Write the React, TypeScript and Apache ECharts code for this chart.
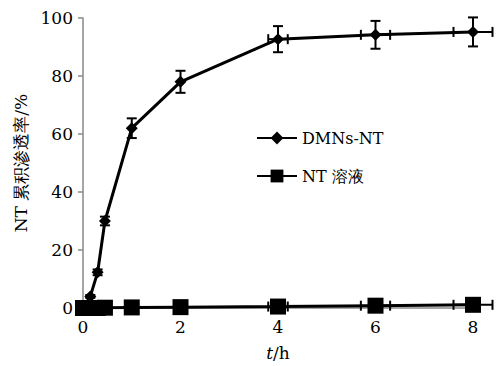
import React, { useEffect, useRef } from "react";
import * as echarts from "echarts";

const xTimes = [0, 0.15, 0.3, 0.45, 1, 2, 4, 6, 8];
const dmnsValues = [0, 4, 12.3, 30, 62, 78, 92.7, 94.2, 95.2];
const dmnsYErr = [0, 0.5, 1, 1.5, 3.4, 3.8, 4.5, 4.8, 5];
const dmnsXErr = [0, 0, 0, 0, 0, 0, 0.2, 0.3, 0.4];
const ntValues = [0, 0, 0, 0.1, 0.2, 0.3, 0.5, 0.8, 1.1];
const ntYErr = [0, 0, 0, 0, 0, 0, 0, 0, 0];
const ntXErr = [0, 0, 0, 0, 0, 0, 0.2, 0.3, 0.4];
const yTicks = [0, 20, 40, 60, 80, 100];
const xTicks = [0, 2, 4, 6, 8];
const seriesNames = ["DMNs-NT", "NT 溶液"];

const FONT = "DejaVu Serif";

function errorSeries(values: number[], yErr: number[], xErr: number[]) {
  const data = xTimes.map((x, i) => [x, values[i], yErr[i], xErr[i]]);
  return {
    type: "custom",
    silent: true,
    z: 3,
    clip: false,
    data,
    renderItem: (params: any, api: any) => {
      const x = api.value(0);
      const y = api.value(1);
      const ye = api.value(2);
      const xe = api.value(3);
      const children: any[] = [];
      const style = { stroke: "#000", lineWidth: 2 };
      const cap = 5;
      if (ye > 0) {
        const top = api.coord([x, y + ye]);
        const bot = api.coord([x, y - ye]);
        children.push({ type: "line", shape: { x1: top[0], y1: top[1], x2: bot[0], y2: bot[1] }, style });
        children.push({ type: "line", shape: { x1: top[0] - cap, y1: top[1], x2: top[0] + cap, y2: top[1] }, style });
        children.push({ type: "line", shape: { x1: bot[0] - cap, y1: bot[1], x2: bot[0] + cap, y2: bot[1] }, style });
      }
      if (xe > 0) {
        const l = api.coord([x - xe, y]);
        const r = api.coord([x + xe, y]);
        children.push({ type: "line", shape: { x1: l[0], y1: l[1], x2: r[0], y2: r[1] }, style });
        children.push({ type: "line", shape: { x1: l[0], y1: l[1] - cap, x2: l[0], y2: l[1] + cap }, style });
        children.push({ type: "line", shape: { x1: r[0], y1: r[1] - cap, x2: r[0], y2: r[1] + cap }, style });
      }
      return { type: "group", children };
    },
  };
}

export default function App() {
  const ref = useRef<HTMLDivElement>(null);
  useEffect(() => {
    if (!ref.current) return;
    const chart = echarts.init(ref.current, null, { renderer: "svg" });
    chart.setOption({
      animation: false,
      backgroundColor: "#fff",
      textStyle: { fontFamily: FONT, color: "#000" },
      grid: { left: 83, right: 23, top: 18, bottom: 56 },
      legend: {
        orient: "vertical",
        left: 251,
        top: 125,
        itemWidth: 40,
        itemHeight: 16,
        itemGap: 22,
        data: seriesNames,
        textStyle: { fontFamily: FONT, fontSize: 16, color: "#000" },
      },
      xAxis: {
        type: "value",
        min: 0,
        max: 8,
        interval: 2,
        name: "{i|t}/h",
        nameLocation: "middle",
        nameGap: 36,
        nameTextStyle: {
          fontFamily: FONT,
          fontSize: 17,
          color: "#000",
          rich: { i: { fontStyle: "italic", fontFamily: FONT, fontSize: 17, color: "#000" } },
        },
        axisLine: { show: true, lineStyle: { color: "#888", width: 1.5 } },
        axisTick: { show: true, length: 4, lineStyle: { color: "#888" } },
        splitLine: { show: false },
        axisLabel: {
          fontFamily: FONT,
          fontSize: 17,
          color: "#000",
          margin: 10,
          formatter: (v: number) => (xTicks.includes(v) ? String(v) : ""),
        },
      },
      yAxis: {
        type: "value",
        min: 0,
        max: 100,
        interval: 20,
        name: "NT 累积渗透率/%",
        nameLocation: "middle",
        nameGap: 38,
        nameTextStyle: { fontFamily: FONT, fontSize: 17, color: "#000" },
        axisLine: { show: true, lineStyle: { color: "#888", width: 1.5 } },
        axisTick: { show: true, length: 5, lineStyle: { color: "#888", width: 1.5 } },
        splitLine: { show: false },
        axisLabel: {
          fontFamily: FONT,
          fontSize: 17,
          color: "#000",
          margin: 10,
          formatter: (v: number) => (yTicks.includes(v) ? String(v) : ""),
        },
      },
      series: [
        {
          name: seriesNames[0],
          type: "line",
          z: 4,
          data: xTimes.map((x, i) => [x, dmnsValues[i]]),
          symbol: "diamond",
          symbolSize: 12,
          showAllSymbol: true,
          lineStyle: { color: "#000", width: 3 },
          itemStyle: { color: "#000" },
        },
        {
          name: seriesNames[1],
          type: "line",
          z: 4,
          data: xTimes.map((x, i) => [x, ntValues[i]]),
          symbol: "rect",
          symbolSize: 16,
          showAllSymbol: true,
          lineStyle: { color: "#000", width: 3 },
          itemStyle: { color: "#000" },
        },
        errorSeries(dmnsValues, dmnsYErr, dmnsXErr),
        errorSeries(ntValues, ntYErr, ntXErr),
      ],
    });
    return () => chart.dispose();
  }, []);
  return (
    <div
      ref={ref}
      style={{ position: "fixed", left: 0, top: 0, width: 496, height: 366 }}
    />
  );
}
